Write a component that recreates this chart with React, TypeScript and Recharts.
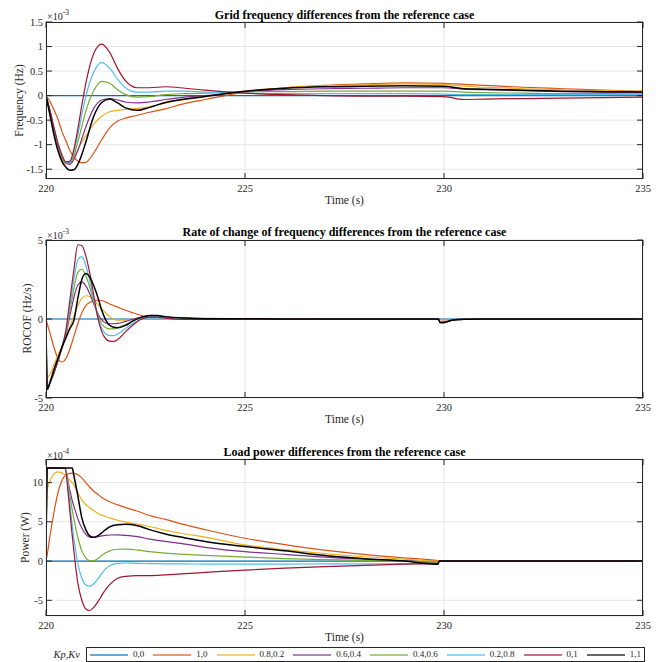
import React from 'react';
import { LineChart, Line, XAxis, YAxis, CartesianGrid } from 'recharts';

const FONT = '"Liberation Serif", "Times New Roman", Times, serif';
const INK = '#262626';

const seriesNames = ['0,0', '1,0', '0.8,0.2', '0.6,0.4', '0.4,0.6', '0.2,0.8', '0,1', '1,1'];
const seriesColors = ['#0072BD', '#D95319', '#EDB120', '#7E2F8E', '#77AC30', '#4DBEEE', '#A2142F', '#000000'];
const timeTicks = [220, 225, 230, 235];

// ---------- Panel 1 : grid frequency difference (x1e-3 Hz) ----------
const freqTime = [220, 220.1, 220.2, 220.3, 220.4, 220.5, 220.6, 220.7, 220.8, 220.9, 221.0, 221.2, 221.4, 221.6, 221.8, 222.0, 222.3, 222.6, 223.0, 223.5, 224, 225, 226, 227, 228, 229, 230, 230.5, 231, 232, 233, 234, 235];
const freq00 = [0, 0, 0, 0, 0, 0, 0, 0, 0, 0, 0, 0, 0, 0, 0, 0, 0, 0, 0, 0, 0, 0, 0, 0, 0, 0, 0, 0, 0, 0, 0, 0, 0];
const freq10 = [0, -0.12, -0.29, -0.48, -0.73, -0.92, -1.12, -1.25, -1.34, -1.37, -1.36, -1.17, -0.9, -0.66, -0.52, -0.46, -0.40, -0.34, -0.27, -0.16, -0.08, 0.07, 0.16, 0.21, 0.24, 0.26, 0.25, 0.23, 0.21, 0.17, 0.14, 0.11, 0.09];
const freq0802 = [0, -0.38, -0.78, -1.1, -1.30, -1.39, -1.36, -1.25, -1.10, -0.95, -0.82, -0.58, -0.42, -0.33, -0.30, -0.28, -0.26, -0.23, -0.15, -0.08, -0.02, 0.09, 0.16, 0.2, 0.22, 0.24, 0.23, 0.19, 0.17, 0.14, 0.12, 0.10, 0.09];
const freq0604 = [0, -0.33, -0.70, -1.02, -1.25, -1.38, -1.40, -1.30, -1.12, -0.88, -0.64, -0.26, -0.09, -0.06, -0.09, -0.13, -0.15, -0.13, -0.08, -0.03, 0.0, 0.08, 0.12, 0.14, 0.15, 0.16, 0.16, 0.13, 0.12, 0.10, 0.08, 0.07, 0.06];
const freq0406 = [0, -0.32, -0.68, -1.0, -1.24, -1.37, -1.38, -1.22, -0.95, -0.63, -0.32, 0.10, 0.29, 0.25, 0.12, 0.02, -0.03, -0.02, 0.02, 0.04, 0.05, 0.08, 0.08, 0.09, 0.09, 0.09, 0.09, 0.07, 0.06, 0.05, 0.04, 0.04, 0.03];
const freq0208 = [0, -0.31, -0.66, -0.98, -1.22, -1.36, -1.36, -1.15, -0.80, -0.40, -0.02, 0.48, 0.67, 0.56, 0.33, 0.16, 0.07, 0.07, 0.09, 0.09, 0.07, 0.05, 0.04, 0.04, 0.04, 0.04, 0.03, 0.02, 0.02, 0.02, 0.02, 0.02, 0.02];
const freq01 = [0, -0.30, -0.65, -0.97, -1.21, -1.35, -1.34, -1.10, -0.68, -0.20, 0.25, 0.86, 1.05, 0.88, 0.55, 0.30, 0.16, 0.16, 0.18, 0.15, 0.11, 0.05, 0.02, 0.0, -0.01, -0.01, -0.02, -0.08, -0.07, -0.06, -0.05, -0.04, -0.03];
const freq11 = [0, -0.40, -0.80, -1.12, -1.34, -1.46, -1.52, -1.51, -1.40, -1.2, -0.95, -0.42, -0.14, -0.07, -0.15, -0.25, -0.30, -0.24, -0.14, -0.07, -0.02, 0.09, 0.15, 0.18, 0.19, 0.20, 0.19, 0.14, 0.13, 0.11, 0.09, 0.08, 0.075];
const freqTicks = [-1.5, -1, -0.5, 0, 0.5, 1, 1.5];

// ---------- Panel 2 : ROCOF difference (x1e-3 Hz/s) ----------
const rocofTime = [220, 220.03, 220.1, 220.2, 220.3, 220.4, 220.5, 220.6, 220.7, 220.8, 220.9, 221.0, 221.1, 221.2, 221.3, 221.4, 221.5, 221.6, 221.7, 221.8, 222.0, 222.2, 222.4, 222.6, 222.8, 223.0, 223.5, 224, 225, 227, 229.86, 229.9, 230.05, 230.2, 230.5, 231, 235];
const rocof00 = [0, 0, 0, 0, 0, 0, 0, 0, 0, 0, 0, 0, 0, 0, 0, 0, 0, 0, 0, 0, 0, 0, 0, 0, 0, 0, 0, 0, 0, 0, 0, 0, 0, 0, 0, 0, 0];
const rocof10 = [0, -0.3, -0.9, -1.8, -2.5, -2.72, -2.5, -1.9, -1.1, -0.3, 0.4, 0.85, 1.05, 1.17, 1.2, 1.17, 1.08, 0.95, 0.85, 0.75, 0.55, 0.38, 0.22, 0.14, 0.14, 0.1, 0.06, 0.04, 0.02, 0.01, 0, -0.15, -0.14, -0.06, -0.02, 0, 0];
const rocof0802 = [0, -3.7, -3.5, -2.9, -2.3, -1.7, -1.1, -0.5, 0.2, 0.85, 1.3, 1.47, 1.42, 1.2, 0.92, 0.65, 0.38, 0.15, 0.0, -0.08, -0.08, 0.0, 0.1, 0.15, 0.16, 0.12, 0.06, 0.03, 0.01, 0, 0, -0.2, -0.18, -0.08, -0.02, 0, 0];
const rocof0604 = [0, -4.45, -4.05, -3.4, -2.65, -1.85, -1.0, 0.2, 1.35, 2.15, 2.35, 2.1, 1.6, 0.95, 0.35, -0.05, -0.25, -0.3, -0.3, -0.28, -0.15, 0.0, 0.12, 0.18, 0.18, 0.12, 0.04, 0.01, 0, 0, 0, -0.2, -0.18, -0.08, -0.02, 0, 0];
const rocof0406 = [0, -4.45, -4.05, -3.4, -2.65, -1.8, -0.9, 0.5, 1.9, 2.95, 3.15, 2.75, 2.0, 1.1, 0.25, -0.3, -0.55, -0.62, -0.62, -0.55, -0.35, -0.1, 0.1, 0.18, 0.18, 0.1, 0.02, 0, 0, 0, 0, -0.2, -0.18, -0.08, -0.02, 0, 0];
const rocof0208 = [0, -4.45, -4.05, -3.4, -2.65, -1.8, -0.8, 0.8, 2.5, 3.75, 3.95, 3.4, 2.4, 1.25, 0.15, -0.6, -0.95, -1.05, -1.05, -0.95, -0.6, -0.25, 0.02, 0.15, 0.15, 0.08, 0.0, -0.01, 0, 0, 0, -0.2, -0.18, -0.08, -0.02, 0, 0];
const rocof01 = [0, -4.45, -4.05, -3.4, -2.65, -1.8, -0.7, 1.2, 3.1, 4.7, 4.65, 4.0, 2.9, 1.5, 0.1, -0.8, -1.25, -1.4, -1.42, -1.3, -0.8, -0.35, 0.0, 0.12, 0.12, 0.05, -0.03, -0.03, -0.01, 0, 0, -0.2, -0.18, -0.08, -0.02, 0, 0];
const rocof11 = [0, -4.45, -4.0, -3.2, -2.5, -1.8, -1.2, -0.6, -0.1, 1.3, 2.5, 2.88, 2.65, 2.1, 1.4, 0.55, -0.05, -0.4, -0.52, -0.55, -0.4, -0.1, 0.12, 0.22, 0.22, 0.15, 0.06, 0.02, 0.01, 0, 0, -0.24, -0.2, -0.08, -0.02, 0, 0];
const rocofTicks = [-5, 0, 5];

// ---------- Panel 3 : load power difference (x1e-4 W) ----------
const powerTime = [220, 220.03, 220.1, 220.2, 220.3, 220.48, 220.55, 220.6, 220.66, 220.7, 220.8, 220.9, 221.0, 221.1, 221.2, 221.3, 221.4, 221.5, 221.6, 221.8, 222.0, 222.3, 222.6, 223.0, 223.5, 224, 225, 226, 227, 228, 229, 229.85, 229.88, 231, 233, 235];
const power00 = [0, 0, 0, 0, 0, 0, 0, 0, 0, 0, 0, 0, 0, 0, 0, 0, 0, 0, 0, 0, 0, 0, 0, 0, 0, 0, 0, 0, 0, 0, 0, 0, 0, 0, 0, 0];
const power10 = [0, 0.8, 3.2, 6.2, 8.7, 10.9, 11.1, 11.18, 11.2, 11.18, 11.0, 10.6, 10.0, 9.4, 8.9, 8.5, 8.1, 7.8, 7.55, 7.15, 6.8, 6.35, 5.8, 5.3, 4.6, 4.0, 2.9, 2.1, 1.4, 0.85, 0.4, 0.05, 0, 0, 0, 0];
const power0802 = [0, 9.0, 10.2, 11.1, 11.35, 10.95, 10.6, 10.3, 9.95, 9.7, 8.7, 7.8, 7.2, 6.8, 6.4, 6.1, 5.85, 5.65, 5.5, 5.2, 4.95, 4.7, 4.4, 3.9, 3.45, 3.05, 2.05, 1.45, 0.95, 0.55, 0.25, 0.0, 0, 0, 0, 0];
const power0604 = [0, 11.84, 11.84, 11.84, 11.84, 11.84, 10.2, 9.0, 7.7, 7.0, 5.4, 4.2, 3.4, 3.05, 3.0, 3.1, 3.2, 3.28, 3.32, 3.33, 3.28, 3.1, 2.8, 2.5, 2.15, 1.75, 1.2, 0.85, 0.5, 0.25, 0.05, -0.2, 0, 0, 0, 0];
const power0406 = [0, 11.84, 11.84, 11.84, 11.84, 11.84, 10.0, 8.3, 6.5, 5.4, 3.0, 1.3, 0.4, 0.05, 0.05, 0.3, 0.7, 1.05, 1.3, 1.5, 1.53, 1.4, 1.2, 1.0, 0.85, 0.72, 0.51, 0.32, 0.18, 0.08, 0.0, -0.15, 0, 0, 0, 0];
const power0208 = [0, 11.84, 11.84, 11.84, 11.84, 11.84, 9.6, 7.3, 4.5, 2.9, -0.3, -2.2, -3.05, -3.2, -2.9, -2.3, -1.6, -1.0, -0.6, -0.3, -0.25, -0.3, -0.32, -0.35, -0.37, -0.38, -0.38, -0.38, -0.37, -0.35, -0.33, -0.3, 0, 0, 0, 0];
const power01 = [0, 11.84, 11.84, 11.84, 11.84, 11.84, 9.0, 6.3, 3.2, 1.3, -2.8, -5.0, -6.1, -6.3, -5.9, -5.2, -4.4, -3.6, -3.0, -2.2, -1.95, -1.85, -1.85, -1.75, -1.6, -1.45, -1.15, -0.9, -0.72, -0.55, -0.4, -0.3, 0, 0, 0, 0];
const power11 = [0, 11.84, 11.84, 11.84, 11.84, 11.84, 11.84, 11.84, 11.84, 10.9, 8.3, 5.5, 4.0, 3.2, 3.02, 3.2, 3.6, 4.0, 4.35, 4.62, 4.68, 4.5, 4.0, 3.45, 2.95, 2.5, 1.85, 1.3, 0.7, 0.3, 0.0, -0.42, 0, 0, 0, 0];
const powerTicks = [-5, 0, 5, 10];

function buildRows(time: number[], series: number[][]) {
  return time.map((t, i) => {
    const r: any = { t };
    series.forEach((s, k) => {
      r['s' + k] = s[i];
    });
    return r;
  });
}

const freqRows = buildRows(freqTime, [freq00, freq10, freq0802, freq0604, freq0406, freq0208, freq01, freq11]);
const rocofRows = buildRows(rocofTime, [rocof00, rocof10, rocof0802, rocof0604, rocof0406, rocof0208, rocof01, rocof11]);
const powerRows = buildRows(powerTime, [power00, power10, power0802, power0604, power0406, power0208, power01, power11]);

const PLOT_LEFT = 46;
const PLOT_W = 597;
const CHART_W = 662;
const TICK_LEN = 6;

type PanelProps = {
  chartTop: number;
  chartH: number;
  plotTop: number;
  plotBottom: number;
  rows: any[];
  yDomain: [number, number];
  yTicks: number[];
};

function Panel({ chartTop, chartH, plotTop, plotBottom, rows, yDomain, yTicks }: PanelProps) {
  const mTop = plotTop - chartTop;
  const pTop = mTop;
  const pBottom = plotBottom - chartTop;
  const xAxisH = chartH - pBottom;
  const right = PLOT_LEFT + PLOT_W;

  const xTick = (props: any) => {
    const { x, payload } = props;
    return (
      <g>
        <line x1={x} x2={x} y1={pBottom} y2={pBottom - TICK_LEN} stroke={INK} strokeWidth={1} />
        <line x1={x} x2={x} y1={pTop} y2={pTop + TICK_LEN} stroke={INK} strokeWidth={1} />
        <text x={x} y={pBottom + 13} textAnchor="middle" fontSize={10.5} fill={INK} fontFamily={FONT}>
          {String(payload.value)}
        </text>
      </g>
    );
  };

  const yTick = (props: any) => {
    const { y, payload } = props;
    return (
      <g>
        <line x1={PLOT_LEFT} x2={PLOT_LEFT + TICK_LEN} y1={y} y2={y} stroke={INK} strokeWidth={1} />
        <line x1={right} x2={right - TICK_LEN} y1={y} y2={y} stroke={INK} strokeWidth={1} />
        <text x={PLOT_LEFT - 3} y={y + 3.6} textAnchor="end" fontSize={10.5} fill={INK} fontFamily={FONT}>
          {String(payload.value)}
        </text>
      </g>
    );
  };

  return (
    <div style={{ position: 'absolute', left: 0, top: chartTop, width: CHART_W, height: chartH }}>
      <LineChart width={CHART_W} height={chartH} data={rows} margin={{ top: mTop, right: CHART_W - right, bottom: 0, left: 0 }}>
        <CartesianGrid stroke="#e6e6e6" strokeWidth={1} />
        <XAxis
          dataKey="t"
          type="number"
          domain={[220, 235]}
          ticks={timeTicks}
          interval={0}
          allowDataOverflow
          height={xAxisH}
          axisLine={false}
          tickLine={false}
          tick={xTick}
        />
        <YAxis
          type="number"
          domain={yDomain}
          ticks={yTicks}
          interval={0}
          allowDataOverflow
          width={PLOT_LEFT}
          axisLine={false}
          tickLine={false}
          tick={yTick}
        />
        {seriesColors.map((c, k) => (
          <Line
            key={k}
            type="monotone"
            dataKey={'s' + k}
            stroke={c}
            strokeWidth={k === 7 ? 1.5 : 1.2}
            dot={false}
            activeDot={false}
            isAnimationActive={false}
          />
        ))}
      </LineChart>
    </div>
  );
}

const titles = [
  { text: 'Grid frequency differences from the reference case', y: 18.5 },
  { text: 'Rate of change of frequency differences from the reference case', y: 236 },
  { text: 'Load power differences from the reference case', y: 455.7 },
];

const yLabels = [
  { text: 'Frequency (Hz)', x: 23, y: 100.5 },
  { text: 'ROCOF (Hz/s)', x: 31, y: 318.5 },
  { text: 'Power (W)', x: 28.5, y: 537.5 },
];

const exponents = [
  { exp: '-3', y: 20 },
  { exp: '-3', y: 238.5 },
  { exp: '-4', y: 458.5 },
];

const xLabelY = [204, 422.5, 641];

const frames = [
  { top: 22, bottom: 179 },
  { top: 240, bottom: 398 },
  { top: 459, bottom: 616 },
];

export default function App() {
  const cx = PLOT_LEFT + PLOT_W / 2;
  return (
    <div style={{ position: 'absolute', left: 0, top: 0, width: 662, height: 662, background: '#ffffff', overflow: 'hidden' }}>
      <Panel chartTop={0} chartH={200} plotTop={22} plotBottom={179} rows={freqRows} yDomain={[-1.7, 1.5]} yTicks={freqTicks} />
      <Panel chartTop={220} chartH={200} plotTop={240} plotBottom={398} rows={rocofRows} yDomain={[-5, 5]} yTicks={rocofTicks} />
      <Panel chartTop={440} chartH={200} plotTop={459} plotBottom={616} rows={powerRows} yDomain={[-7, 13]} yTicks={powerTicks} />

      <svg width={662} height={662} style={{ position: 'absolute', left: 0, top: 0, pointerEvents: 'none' }}>
        {frames.map((f, i) => (
          <rect key={'f' + i} x={PLOT_LEFT + 0.5} y={f.top + 0.5} width={PLOT_W - 1} height={f.bottom - f.top - 1} fill="none" stroke={INK} strokeWidth={1} />
        ))}
        {titles.map((t, i) => (
          <text key={'t' + i} x={cx} y={t.y} textAnchor="middle" fontSize={12} fontWeight="bold" fill="#000" fontFamily={FONT}>
            {t.text}
          </text>
        ))}
        {xLabelY.map((y, i) => (
          <text key={'x' + i} x={cx} y={y} textAnchor="middle" fontSize={11.5} fill={INK} fontFamily={FONT}>
            Time (s)
          </text>
        ))}
        {yLabels.map((l, i) => (
          <text key={'y' + i} x={l.x} y={l.y} transform={`rotate(-90 ${l.x} ${l.y})`} textAnchor="middle" fontSize={11.5} fill={INK} fontFamily={FONT}>
            {l.text}
          </text>
        ))}
        {exponents.map((e, i) => (
          <text key={'e' + i} x={PLOT_LEFT + 1} y={e.y} fontSize={10} fill={INK} fontFamily={FONT}>
            ×10
            <tspan dy={-5} fontSize={7.5}>{e.exp}</tspan>
          </text>
        ))}
        <text x={80} y={657.5} textAnchor="end" fontSize={10.5} fontStyle="italic" fill={INK} fontFamily={FONT}>
          Kp,Kv
        </text>
      </svg>

      <div
        style={{
          position: 'absolute',
          left: 86,
          top: 647,
          width: 559,
          height: 15,
          boxSizing: 'border-box',
          border: `1px solid ${INK}`,
          display: 'flex',
          alignItems: 'center',
          paddingLeft: 3,
          fontFamily: FONT,
          fontSize: 9,
          color: INK,
          background: '#fff',
        }}
      >
        {seriesNames.map((n, k) => (
          <div key={n} style={{ display: 'flex', alignItems: 'center', marginRight: 9 }}>
            <span style={{ display: 'inline-block', width: 38, height: 2, background: seriesColors[k], opacity: 0.6, marginRight: 5 }} />
            <span style={{ lineHeight: '13px', whiteSpace: 'nowrap' }}>{n}</span>
          </div>
        ))}
      </div>
    </div>
  );
}
